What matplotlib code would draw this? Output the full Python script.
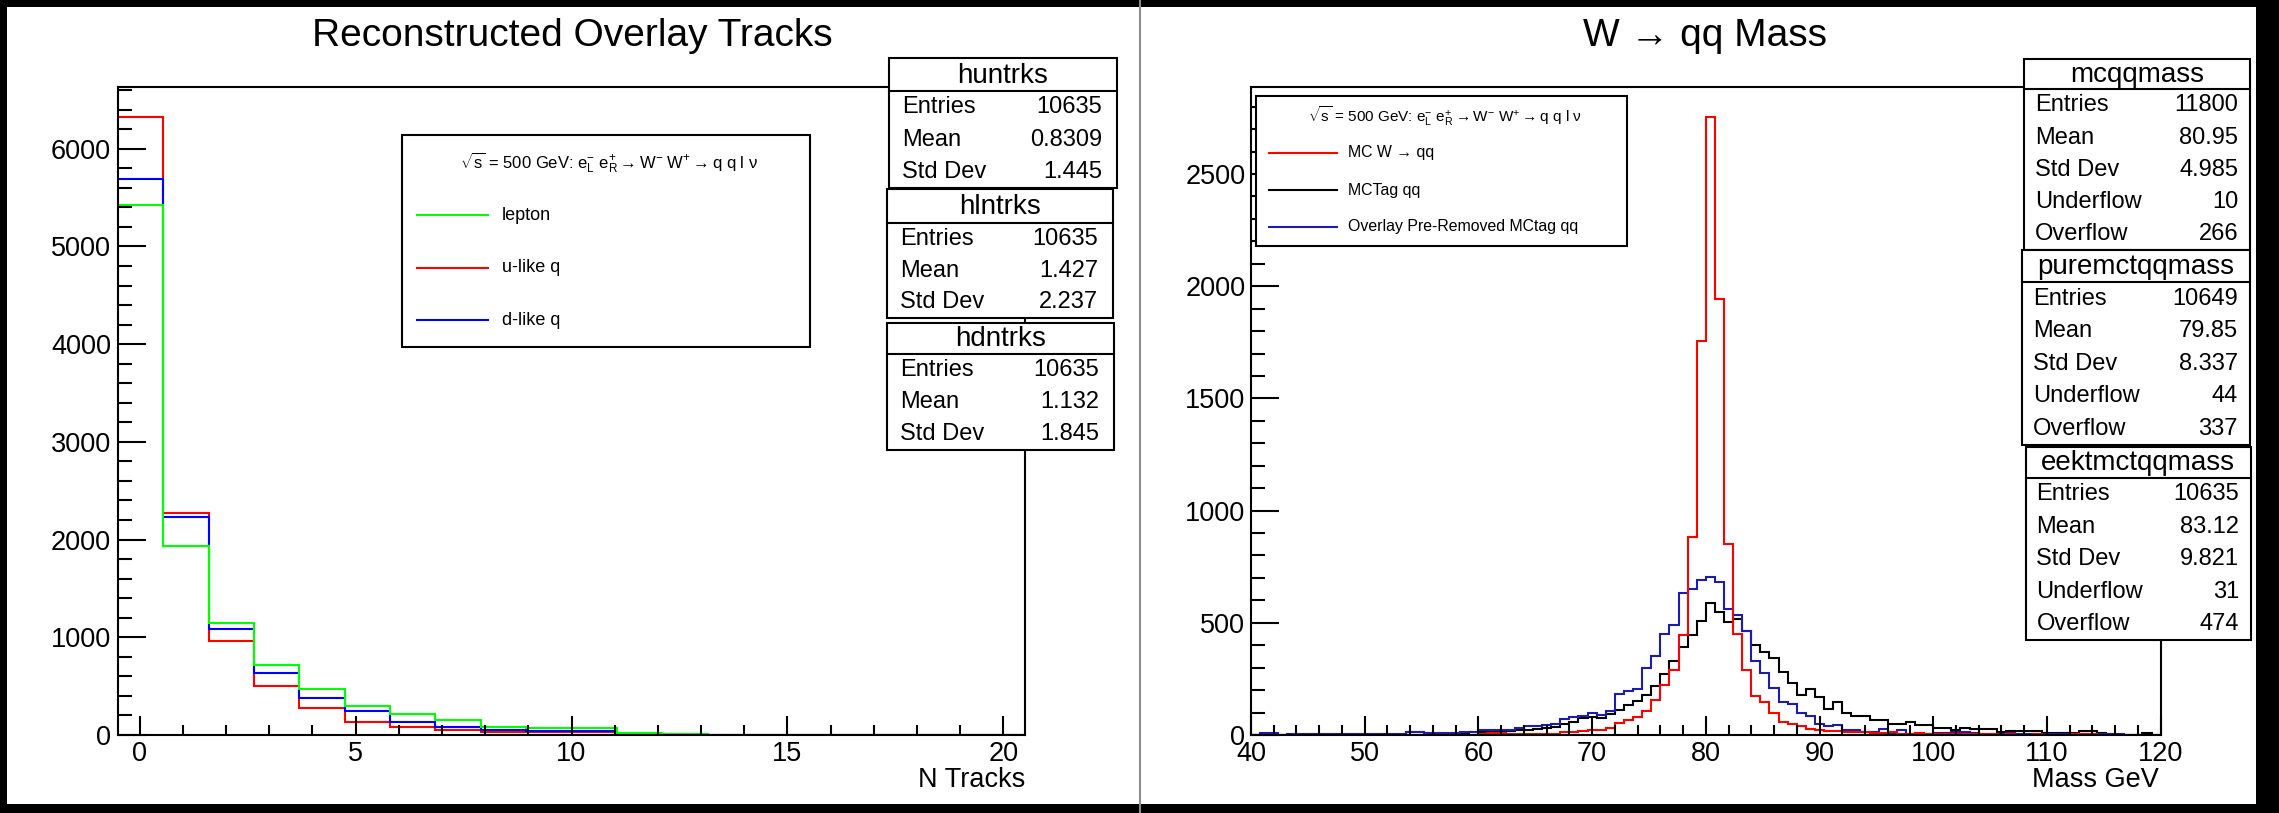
import numpy as np
import matplotlib
matplotlib.use("Agg")
import matplotlib.pyplot as plt
from matplotlib.patches import Rectangle
from matplotlib.ticker import MultipleLocator

plt.rcParams['font.family'] = ['Liberation Sans', 'DejaVu Sans']
plt.rcParams['mathtext.fontset'] = 'custom'
plt.rcParams['mathtext.rm'] = 'Liberation Sans'
plt.rcParams['mathtext.it'] = 'Liberation Sans'
plt.rcParams['mathtext.bf'] = 'Liberation Sans:bold'

# ---- left pad: number of overlay tracks, 20 bins from -0.5 to 20.5
ntrk_edges = np.linspace(-0.5, 20.5, 21)
u_like = [6320, 2272, 967, 497, 275, 135, 80, 50, 27, 27, 30, 5, 0, 0, 0, 0, 0, 0, 0, 0]
d_like = [5690, 2228, 1087, 639, 377, 245, 138, 80, 53, 37, 37, 8, 4, 0, 0, 0, 0, 0, 0, 0]
lepton = [5423, 1931, 1145, 719, 470, 300, 218, 149, 80, 74, 74, 16, 14, 0, 0, 0, 0, 0, 0, 0]

# ---- right pad: W -> qq mass, 100 bins from 40 to 120 GeV
mass_edges = np.linspace(40, 120, 101)
mc_wqq = [0, 0, 0, 0, 0, 0, 0, 0, 0, 0,
          0, 0, 0, 0, 0, 0, 0, 0, 0, 0,
          0, 0, 0, 0, 0, 3, 7, 7, 5, 4,
          4, 3, 3, 4, 12, 15, 20, 22, 22, 30,
          55, 68, 80, 105, 155, 225, 290, 445, 882, 1754,
          2752, 1943, 849, 452, 288, 172, 148, 98, 60, 50,
          40, 25, 22, 20, 18, 15, 14, 12, 10, 8,
          12, 6, 5, 8, 5, 4, 6, 3, 4, 3,
          3, 5, 2, 5, 2, 2, 3, 2, 2, 2,
          3, 5, 5, 2, 1, 1, 1, 1, 2, 1]
mctag_qq = [0, 4, 4, 2, 2, 2, 2, 2, 2, 2,
            2, 2, 2, 2, 2, 2, 2, 12, 12, 4,
            4, 4, 4, 4, 12, 12, 20, 20, 20, 22,
            22, 25, 30, 34, 50, 60, 75, 80, 75, 92,
            112, 135, 150, 178, 218, 270, 330, 392, 445, 510,
            590, 550, 505, 516, 465, 400, 370, 345, 280, 231,
            179, 204, 171, 116, 149, 96, 86, 86, 68, 68,
            51, 51, 58, 43, 43, 33, 33, 21, 33, 26,
            26, 26, 14, 18, 18, 18, 18, 10, 7, 7,
            7, 18, 18, 7, 5, 2, 2, 2, 8, 2]
overlay_removed = [0, 7, 7, 0, 5, 5, 5, 5, 5, 5,
                   5, 5, 5, 5, 5, 5, 5, 15, 15, 7,
                   7, 7, 7, 15, 15, 22, 22, 22, 22, 30,
                   40, 40, 45, 50, 70, 78, 85, 96, 90, 107,
                   182, 197, 206, 298, 350, 448, 492, 635, 652, 690,
                   705, 680, 560, 537, 465, 328, 275, 208, 148, 138,
                   100, 86, 48, 40, 43, 22, 21, 12, 14, 26,
                   10, 21, 5, 5, 5, 8, 10, 12, 14, 10,
                   5, 3, 5, 8, 5, 4, 4, 3, 3, 3,
                   3, 3, 4, 3, 3, 3, 2, 2, 2, 2]

# ---- stats boxes text
trk_names = ['huntrks', 'hlntrks', 'hdntrks']
trk_labels = ['Entries', 'Mean', 'Std Dev']
trk_values = [['10635', '0.8309', '1.445'],
              ['10635', '1.427', '2.237'],
              ['10635', '1.132', '1.845']]
mass_names = ['mcqqmass', 'puremctqqmass', 'eektmctqqmass']
mass_labels = ['Entries', 'Mean', 'Std Dev', 'Underflow', 'Overflow']
mass_values = [['11800', '80.95', '4.985', '10', '266'],
               ['10649', '79.85', '8.337', '44', '337'],
               ['10635', '83.12', '9.821', '31', '474']]

legend_head = (r'$\sqrt{s}$ = 500 GeV: $\mathrm{e}^{-}_{L}\ \mathrm{e}^{+}_{R}\rightarrow'
               r'\mathrm{W}^{-}\ \mathrm{W}^{+}\rightarrow$q q l ν')

W, H = 2279, 813
fig = plt.figure(figsize=(W / 100, H / 100), dpi=100)
fig.patch.set_facecolor('white')


def fbox(x0, y0, x1, y1):
    return [x0 / W, 1 - y1 / H, (x1 - x0) / W, (y1 - y0) / H]


def root_axes(rect, xmaj, xmin, ymaj, ymin):
    ax = fig.add_axes(rect)
    for s in ax.spines.values():
        s.set_linewidth(1.5)
    ax.xaxis.set_major_locator(MultipleLocator(xmaj))
    ax.xaxis.set_minor_locator(MultipleLocator(xmin))
    ax.yaxis.set_major_locator(MultipleLocator(ymaj))
    ax.yaxis.set_minor_locator(MultipleLocator(ymin))
    ax.tick_params(which='both', direction='in', top=False, right=False, width=1.5,
                   labelsize=19.5)
    ax.xaxis.set_tick_params(which='major', length=14, pad=4)
    ax.xaxis.set_tick_params(which='minor', length=7)
    ax.yaxis.set_tick_params(which='major', length=20, pad=5)
    ax.yaxis.set_tick_params(which='minor', length=10)
    return ax


ax1 = root_axes(fbox(118, 86.6, 1025, 735), 5, 1, 1000, 200)
ax1.stairs(u_like, ntrk_edges, color='#ff0000', lw=1.5, baseline=None)
ax1.stairs(d_like, ntrk_edges, color='#0000ff', lw=1.5, baseline=None)
ax1.stairs(lepton, ntrk_edges, color='#00ff00', lw=1.5, baseline=None)
ax1.set_xlim(-0.5, 20.5)
ax1.set_ylim(0, max(u_like) * 1.05)

ax2 = root_axes(fbox(1251, 86.6, 2160.6, 735), 10, 2, 500, 100)
ax2.stairs(mctag_qq, mass_edges, color='black', lw=1.5, baseline=None)
ax2.stairs(overlay_removed, mass_edges, color='#1c1cb0', lw=1.5, baseline=None)
ax2.stairs(mc_wqq, mass_edges, color='#ff0000', lw=1.5, baseline=None)
ax2.set_xlim(40, 120)
ax2.set_ylim(0, max(mc_wqq) * 1.05)
ax2.yaxis.set_tick_params(which='major', pad=4)

# overlay in pixel coordinates for titles, legends, stats boxes
ov = fig.add_axes([0, 0, 1, 1], zorder=10)
ov.set_xlim(0, W)
ov.set_ylim(H, 0)
ov.axis('off')
ov.patch.set_alpha(0)

ov.text(572, 46, 'Reconstructed Overlay Tracks', fontsize=28, ha='center', va='baseline')
ov.text(1705, 46, 'W → qq Mass', fontsize=28, ha='center', va='baseline')
ov.text(1025, 780, 'N Tracks', fontsize=19.5, ha='right', va='center')
ov.text(2159, 780, 'Mass GeV', fontsize=19.5, ha='right', va='center')


def stat_box(x0, y0, x1, y1, yh, name, labels, values, padl, padr):
    ov.add_patch(Rectangle((x0, y0), x1 - x0, y1 - y0, facecolor='white',
                           edgecolor='black', lw=1.5))
    ov.plot([x0, x1], [yh, yh], color='black', lw=1.5)
    ov.text((x0 + x1) / 2, (y0 + yh) / 2 + 1, name, ha='center', va='center', fontsize=20)
    rh = (y1 - yh) / len(labels)
    for i, (lab, val) in enumerate(zip(labels, values)):
        yc = yh + (i + 0.5) * rh
        ov.text(x0 + padl, yc, lab, ha='left', va='center', fontsize=17)
        ov.text(x1 - padr, yc, val, ha='right', va='center', fontsize=17)


trk_boxes = [(889, 58.3, 1117, 188.3, 91), (887, 189.3, 1113, 318.3, 222.7),
             (887, 322.7, 1114, 450, 354)]
for b, n, v in zip(trk_boxes, trk_names, trk_values):
    stat_box(*b, n, trk_labels, v, 13, 15)

mass_boxes = [(2024, 58.6, 2250, 250.4, 89.2), (2022, 250.4, 2250, 444.8, 282.5),
              (2025.5, 446.9, 2251, 640.2, 478)]
for b, n, v in zip(mass_boxes, mass_names, mass_values):
    stat_box(*b, n, mass_labels, v, 11, 12)


def legend_box(x0, y0, x1, y1, head_xy, head_fs, lx0, lx1, tx, ys, labels, colors, fs):
    ov.add_patch(Rectangle((x0, y0), x1 - x0, y1 - y0, facecolor='white',
                           edgecolor='black', lw=1.5))
    ov.text(*head_xy, legend_head, ha='center', va='center', fontsize=head_fs)
    for y, lab, c in zip(ys, labels, colors):
        ov.plot([lx0, lx1], [y, y], color=c, lw=1.5)
        ov.text(tx, y, lab, ha='left', va='center', fontsize=fs)


legend_box(401.7, 135, 810, 346.7, (609, 163), 12, 416.7, 488.3, 501.7,
           [215, 267.7, 320], ['lepton', 'u-like q', 'd-like q'],
           ['#00ff00', '#ff0000', '#0000ff'], 13)
legend_box(1256, 96, 1626.7, 246, (1445, 116), 11, 1269, 1337, 1348,
           [152.7, 190, 226.7], ['MC W → qq', 'MCTag qq', 'Overlay Pre-Removed MCtag qq'],
           ['#ff0000', 'black', '#1c1cb0'], 11.4)

# canvas border and pad divider
ov.plot([1140, 1140], [0, H], color='#8c8c8c', lw=1.5)
for r in [(0, 0, W, 7), (0, 804, W, 9), (0, 0, 7, H), (2256, 0, 23, H)]:
    ov.add_patch(Rectangle(r[:2], r[2], r[3], facecolor='black', edgecolor='none'))

fig.savefig('out.png', dpi=100)
